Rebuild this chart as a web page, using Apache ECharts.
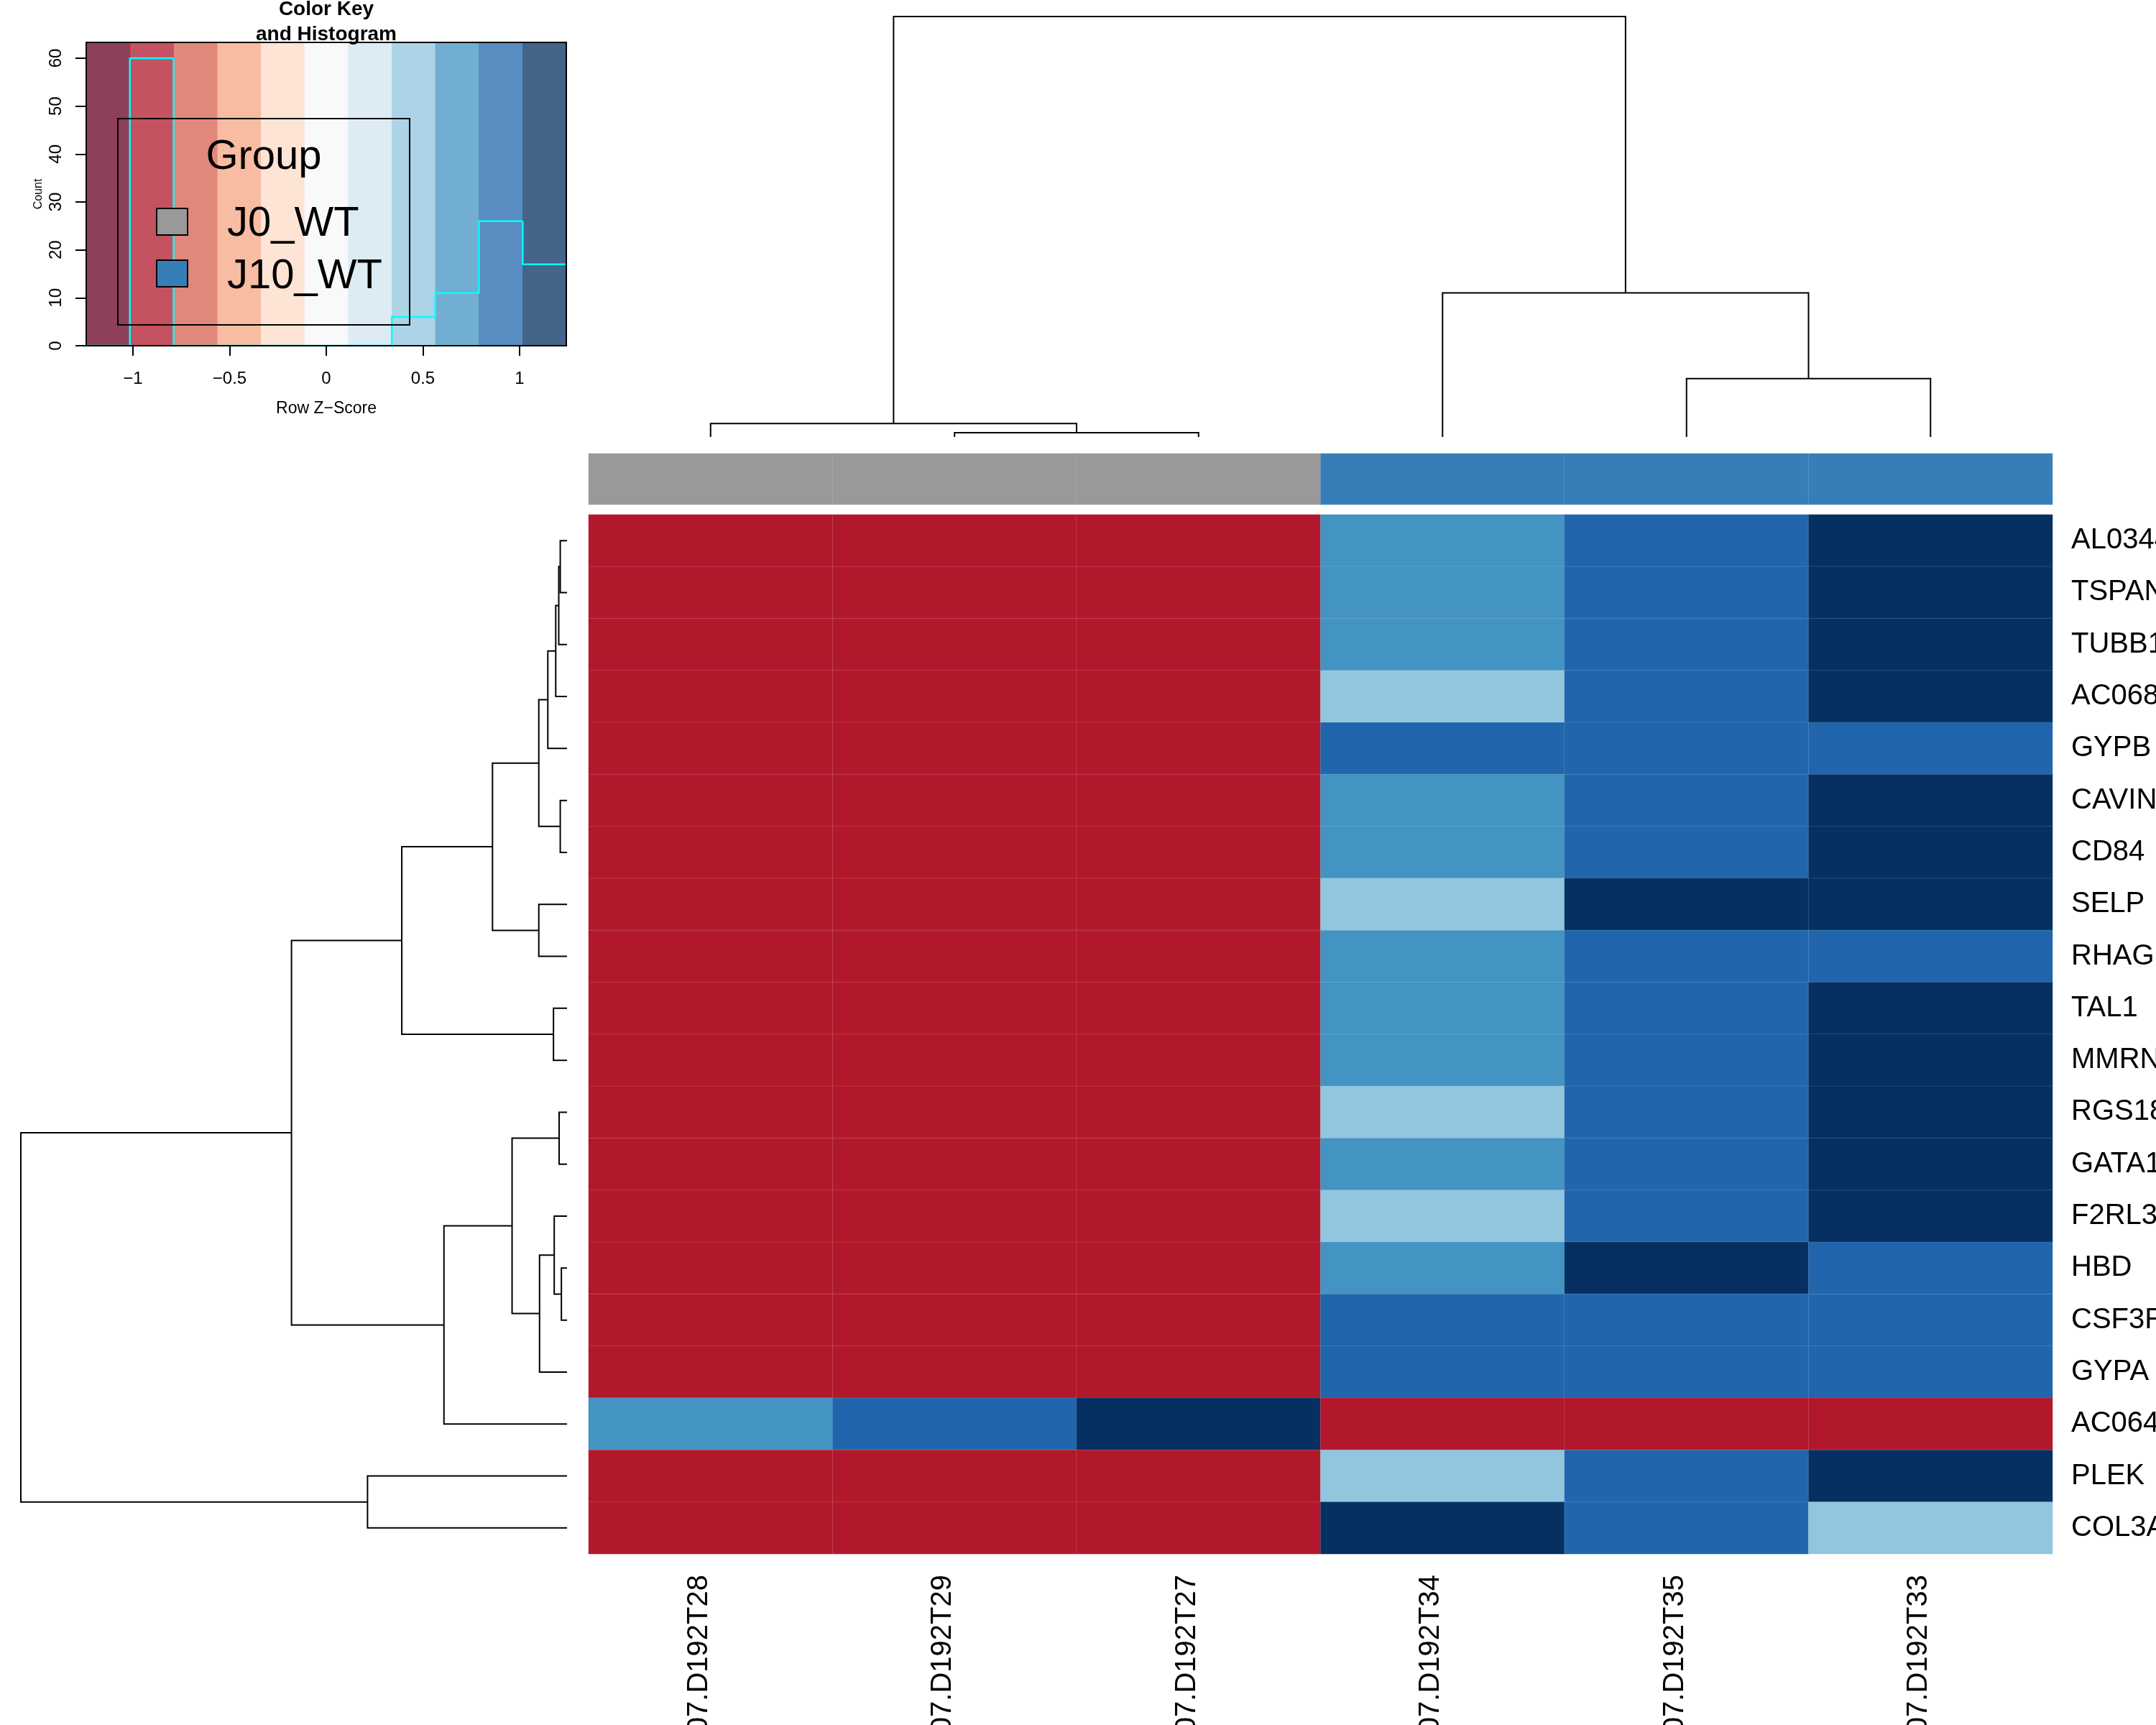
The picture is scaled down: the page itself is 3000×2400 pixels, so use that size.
<!DOCTYPE html>
<html>
<head>
<meta charset="utf-8">
<script src="https://cdn.jsdelivr.net/npm/echarts@6/dist/echarts.min.js"></script>
<style>
  html, body { margin: 0; padding: 0; background: #fff; }
  #chart { width: 3000px; height: 2400px; }
</style>
</head>
<body>
<div id="chart"></div>
<script>
// columns (samples) in dendrogram order
const samples = ['2207.D192T28', '2207.D192T29', '2207.D192T27', '2207.D192T34', '2207.D192T35', '2207.D192T33'];
const sampleGroup = [0, 0, 0, 1, 1, 1];
const groupNames = ['J0_WT', 'J10_WT'];
const groupColors = ['#999999', '#377EB8'];

// rows (genes) top to bottom
const genes = ['AL034430.1', 'TSPAN9', 'TUBB1', 'AC068580.4', 'GYPB', 'CAVIN2', 'CD84', 'SELP', 'RHAG', 'TAL1',
  'MMRN1', 'RGS18', 'GATA1', 'F2RL3', 'HBD', 'CSF3R', 'GYPA', 'AC064805.1', 'PLEK', 'COL3A1'];

// row z-scores, one list per gene, columns in sample order
const zAL034 = [-0.91, -0.91, -0.91, 0.66, 0.92, 1.16];
const zTSPAN = [-0.91, -0.91, -0.91, 0.67, 0.93, 1.14];
const zTUBB1 = [-0.91, -0.91, -0.91, 0.68, 0.92, 1.14];
const zAC068 = [-0.91, -0.91, -0.91, 0.52, 0.98, 1.24];
const zGYPB = [-0.91, -0.91, -0.91, 0.88, 0.92, 0.94];
const zCAVIN = [-0.91, -0.91, -0.91, 0.63, 0.95, 1.16];
const zCD84 = [-0.91, -0.91, -0.91, 0.64, 0.94, 1.16];
const zSELP = [-0.91, -0.91, -0.91, 0.52, 1.10, 1.12];
const zRHAG = [-0.91, -0.91, -0.91, 0.74, 1.00, 1.00];
const zTAL1 = [-0.91, -0.91, -0.91, 0.66, 0.94, 1.14];
const zMMRN = [-0.91, -0.91, -0.91, 0.68, 0.93, 1.13];
const zRGS18 = [-0.91, -0.91, -0.91, 0.50, 1.00, 1.24];
const zGATA1 = [-0.91, -0.91, -0.91, 0.62, 0.96, 1.16];
const zF2RL3 = [-0.91, -0.91, -0.91, 0.48, 1.00, 1.26];
const zHBD = [-0.91, -0.91, -0.91, 0.70, 1.04, 1.00];
const zCSF3R = [-0.91, -0.91, -0.91, 0.90, 0.92, 0.92];
const zGYPA = [-0.91, -0.91, -0.91, 0.90, 0.92, 0.92];
const zAC064 = [0.66, 0.94, 1.14, -0.91, -0.91, -0.91];
const zPLEK = [-0.91, -0.91, -0.91, 0.50, 1.00, 1.24];
const zCOL3A = [-0.91, -0.91, -0.91, 1.24, 1.00, 0.50];
const zRows = [zAL034, zTSPAN, zTUBB1, zAC068, zGYPB, zCAVIN, zCD84, zSELP, zRHAG, zTAL1,
  zMMRN, zRGS18, zGATA1, zF2RL3, zHBD, zCSF3R, zGYPA, zAC064, zPLEK, zCOL3A];

// colour key: breaks, RdBu palette, histogram counts
const keyBreaks = [-1.2417, -1.016, -0.790, -0.564, -0.339, -0.113, 0.113, 0.339, 0.564, 0.790, 1.016, 1.2417];
const keyColors = ['#67001F', '#B2182B', '#D6604D', '#F4A582', '#FDDBC7', '#F7F7F7',
  '#D1E5F0', '#92C5DE', '#4393C3', '#2166AC', '#053061'];
const histCounts = [0, 60, 0, 0, 0, 0, 0, 6, 11, 26, 17];
const keyXTicks = [-1, -0.5, 0, 0.5, 1];
const keyYTicks = [0, 10, 20, 30, 40, 50, 60];
const keyYMax = 63.3;

// dendrograms, hclust style: negative = leaf (1-based), positive = earlier merge
const rowMerge = [[-1, -2], [1, -3], [2, -4], [3, -5], [-6, -7], [4, 5], [-8, -9], [6, 7], [-10, -11], [8, 9],
  [-12, -13], [-15, -16], [-14, 12], [13, -17], [11, 14], [15, -18], [10, 16], [-19, -20], [17, 18]];
const rowHeight = [18, 22, 30, 51, 18, 75, 75, 198, 36, 439, 21, 15, 34, 73, 146, 327, 732, 530, 1451];
const colMerge = [[-2, -3], [-1, 1], [-5, -6], [-4, 3], [2, 4]];
const colHeight = [13, 41, 177, 437, 1275];

function dendroSegments(merge, height, swap) {
  const pos = [], hs = [], segs = [];
  const p = k => (k < 0 ? -k - 1 : pos[k - 1]);
  const h = k => (k < 0 ? 0 : hs[k - 1]);
  merge.forEach((m, i) => {
    const a = m[0], b = m[1], ht = height[i];
    let pts = [[p(a), h(a)], [p(a), ht], [p(b), ht], [p(b), h(b)]];
    if (swap) pts = pts.map(q => [q[1], q[0]]);
    segs.push({ coords: pts });
    pos.push((p(a) + p(b)) / 2);
    hs.push(ht);
  });
  return segs;
}

const heatData = [];
zRows.forEach((row, r) => row.forEach((v, c) => heatData.push([c, r, v])));
const sideData = sampleGroup.map((g, c) => [c, 0, g]);

const pieces = keyColors.map((col, i) => {
  const pc = { color: col };
  if (i > 0) pc.gte = keyBreaks[i];
  if (i < keyColors.length - 1) pc.lt = keyBreaks[i + 1];
  return pc;
});

const histLine = histCounts.map((n, i) => [keyBreaks[i], n]);
histLine.push([keyBreaks[keyBreaks.length - 1], histCounts[histCounts.length - 1]]);
const bandData = keyColors.map((c, i) => [keyBreaks[i], keyBreaks[i + 1], i]);

const font = 'Liberation Sans, Arial, Helvetica, sans-serif';
const minus = v => (v < 0 ? '\u2212' + Math.abs(v) : String(v));
const hidden = { show: false };

const HM = { left: 819, top: 716, width: 2037, height: 1446 };
const KEY = { left: 120, top: 59, width: 668, height: 422 };

const options = {
  animation: false,
  backgroundColor: '#fff',
  textStyle: { fontFamily: font },
  grid: [
    { left: HM.left, top: HM.top, width: HM.width, height: HM.height, outerBoundsMode: 'none', containLabel: false },
    { left: HM.left, top: 631, width: HM.width, height: 71, outerBoundsMode: 'none' },
    { left: HM.left, top: 23, width: HM.width, height: 585, outerBoundsMode: 'none' },
    { left: 29, top: HM.top, width: 760, height: HM.height, outerBoundsMode: 'none' },
    { left: KEY.left, top: KEY.top, width: KEY.width, height: KEY.height, outerBoundsMode: 'none',
      show: true, z: 10, backgroundColor: 'transparent', borderColor: '#000', borderWidth: 2 }
  ],
  xAxis: [
    { gridIndex: 0, type: 'category', data: samples, axisLine: hidden, axisTick: hidden, splitLine: hidden,
      axisLabel: { interval: 0, rotate: 90, fontSize: 40, color: '#000', margin: 29,
        verticalAlign: 'bottom', lineHeight: 32, fontFamily: font } },
    { gridIndex: 1, type: 'category', data: samples, show: false },
    { gridIndex: 2, type: 'value', min: -0.5, max: 5.5, show: false },
    { gridIndex: 3, type: 'value', min: 0, max: 1451, inverse: true, show: false },
    { gridIndex: 4, type: 'value', min: keyBreaks[0], max: keyBreaks[keyBreaks.length - 1],
      axisLine: { show: false, onZero: false }, splitLine: hidden,
      axisTick: { customValues: keyXTicks, length: 14, lineStyle: { color: '#000', width: 2 } },
      axisLabel: { customValues: keyXTicks, formatter: minus, fontSize: 24, color: '#000', margin: 34, fontFamily: font },
      name: 'Row Z\u2212Score', nameLocation: 'middle', nameGap: 76,
      nameTextStyle: { fontSize: 23, color: '#000', fontFamily: font } }
  ],
  yAxis: [
    { gridIndex: 0, type: 'category', data: genes, inverse: true, position: 'right',
      axisLine: hidden, axisTick: hidden, splitLine: hidden,
      axisLabel: { interval: 0, fontSize: 40, color: '#000', margin: 26, fontFamily: font } },
    { gridIndex: 1, type: 'category', data: ['group'], show: false },
    { gridIndex: 2, type: 'value', min: 0, max: 1275, show: false },
    { gridIndex: 3, type: 'value', min: -0.5, max: genes.length - 0.5, inverse: true, show: false },
    { gridIndex: 4, type: 'value', min: 0, max: keyYMax, splitLine: hidden,
      axisLine: { show: true, onZero: false, lineStyle: { color: '#000', width: 2 } },
      axisTick: { customValues: keyYTicks, length: 15, lineStyle: { color: '#000', width: 2 } },
      axisLabel: { customValues: keyYTicks, rotate: 90, fontSize: 24, color: '#000', margin: 30, fontFamily: font },
      name: 'Count', nameLocation: 'middle', nameGap: 58, nameRotate: 90,
      nameTextStyle: { fontSize: 16, color: '#000', fontFamily: font } }
  ],
  visualMap: [
    { type: 'piecewise', show: false, seriesIndex: 0, pieces: pieces },
    { type: 'piecewise', show: false, seriesIndex: 1,
      pieces: groupColors.map((c, i) => ({ value: i, color: c })) }
  ],
  series: [
    { type: 'heatmap', xAxisIndex: 0, yAxisIndex: 0, data: heatData, progressive: 0,
      itemStyle: { borderColor: 'rgba(255,255,255,0.12)', borderWidth: 1 }, emphasis: { disabled: true } },
    { type: 'heatmap', xAxisIndex: 1, yAxisIndex: 1, data: sideData,
      itemStyle: { borderColor: 'rgba(255,255,255,0.12)', borderWidth: 1 }, emphasis: { disabled: true } },
    { type: 'lines', coordinateSystem: 'cartesian2d', xAxisIndex: 2, yAxisIndex: 2, polyline: true, silent: true,
      lineStyle: { color: '#000', width: 2, opacity: 1 }, data: dendroSegments(colMerge, colHeight, false) },
    { type: 'lines', coordinateSystem: 'cartesian2d', xAxisIndex: 3, yAxisIndex: 3, polyline: true, silent: true,
      lineStyle: { color: '#000', width: 2, opacity: 1 }, data: dendroSegments(rowMerge, rowHeight, true) },
    { type: 'custom', xAxisIndex: 4, yAxisIndex: 4, data: bandData, silent: true,
      encode: { x: [0, 1] },
      renderItem: (params, api) => {
        const p0 = api.coord([api.value(0), keyYMax]);
        const p1 = api.coord([api.value(1), 0]);
        return { type: 'rect',
          shape: { x: p0[0], y: p0[1], width: p1[0] - p0[0] + 0.5, height: p1[1] - p0[1] },
          style: { fill: keyColors[api.value(2)], opacity: 0.75 } };
      } },
    { type: 'line', xAxisIndex: 4, yAxisIndex: 4, data: histLine, step: 'end', symbol: 'none', silent: true,
      lineStyle: { color: '#00FFFF', width: 2.5 }, z: 5 }
  ],
  graphic: [
    { type: 'text', x: 454, y: -4, z: 20,
      style: { text: 'Color Key\nand Histogram', font: 'bold 28px ' + font, fill: '#000',
        align: 'center', verticalAlign: 'top', lineHeight: 35 } },
    { type: 'rect', z: 20, shape: { x: 164, y: 165, width: 406, height: 287 },
      style: { fill: 'none', stroke: '#000', lineWidth: 2 } },
    { type: 'text', x: 367, y: 219, z: 20,
      style: { text: 'Group', font: '58px ' + font, fill: '#000', align: 'center', verticalAlign: 'middle' } },
    ...groupNames.map((g, i) => ({ type: 'rect', z: 20, shape: { x: 218, y: 290 + i * 72, width: 43, height: 37 },
      style: { fill: groupColors[i], stroke: '#000', lineWidth: 2 } })),
    ...groupNames.map((g, i) => ({ type: 'text', z: 20, x: 316, y: 312 + i * 73,
      style: { text: g, font: '58px ' + font, fill: '#000', align: 'left', verticalAlign: 'middle' } }))
  ]
};

const myChart = echarts.init(document.getElementById('chart'));
myChart.setOption(options);
</script>
</body>
</html>
